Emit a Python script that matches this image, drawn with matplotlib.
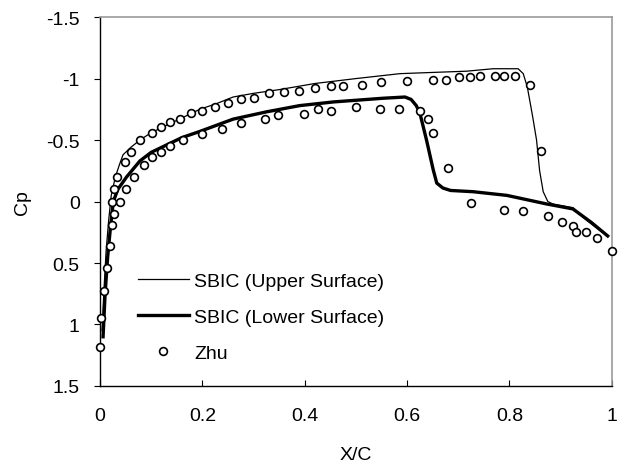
import matplotlib
matplotlib.use("Agg")
import matplotlib.pyplot as plt

plt.rcParams['font.family'] = ['Liberation Sans', 'DejaVu Sans']

# SBIC upper surface (thin line)
x_up = [0.004, 0.008, 0.012, 0.017, 0.022, 0.030, 0.038, 0.045, 0.060, 0.078,
        0.100, 0.130, 0.160, 0.195, 0.230, 0.260, 0.300, 0.350, 0.420, 0.500,
        0.586, 0.650, 0.716, 0.768, 0.817, 0.827, 0.835, 0.845, 0.853, 0.859,
        0.866, 0.875, 0.885, 0.924, 0.950, 0.975, 0.992]
cp_up = [1.05, 0.70, 0.40, 0.15, -0.05, -0.20, -0.30, -0.38, -0.44, -0.50,
         -0.56, -0.62, -0.68, -0.75, -0.80, -0.85, -0.88, -0.91, -0.96, -1.00,
         -1.04, -1.05, -1.06, -1.08, -1.08, -1.04, -0.93, -0.70, -0.50, -0.25,
         -0.08, 0.00, 0.02, 0.05, 0.15, 0.23, 0.28]

# SBIC lower surface (thick line)
x_lo = [0.006, 0.010, 0.015, 0.020, 0.026, 0.035, 0.052, 0.078, 0.100, 0.130,
        0.160, 0.195, 0.260, 0.326, 0.390, 0.456, 0.553, 0.596, 0.608, 0.618,
        0.625, 0.638, 0.651, 0.658, 0.670, 0.685, 0.729, 0.795, 0.873, 0.924,
        0.960, 0.992]
cp_lo = [1.10, 0.75, 0.45, 0.23, 0.00, -0.10, -0.20, -0.33, -0.40, -0.46,
         -0.52, -0.57, -0.67, -0.73, -0.78, -0.81, -0.84, -0.85, -0.83, -0.78,
         -0.72, -0.50, -0.26, -0.15, -0.11, -0.09, -0.08, -0.05, 0.02, 0.06,
         0.17, 0.28]

# Zhu data points
x_zhu = [0.000, 0.002, 0.008, 0.013, 0.020, 0.023, 0.027,
         0.023, 0.027, 0.034, 0.049, 0.061, 0.078, 0.101, 0.119, 0.137, 0.156,
         0.177, 0.199, 0.225, 0.250, 0.275, 0.300, 0.330, 0.360, 0.389, 0.420,
         0.451, 0.475, 0.512, 0.549, 0.600, 0.650, 0.676, 0.701, 0.723, 0.742,
         0.771, 0.789, 0.810, 0.840, 0.861, 0.875, 0.902, 0.924, 0.930, 0.949,
         0.971, 1.000,
         0.039, 0.050, 0.066, 0.086, 0.102, 0.119, 0.137, 0.163, 0.199, 0.239,
         0.275, 0.322, 0.347, 0.399, 0.426, 0.451, 0.501, 0.548, 0.584, 0.626,
         0.640, 0.651, 0.680, 0.724, 0.789, 0.826]
cp_zhu = [1.18, 0.95, 0.73, 0.54, 0.36, 0.19, 0.10,
          0.00, -0.10, -0.20, -0.32, -0.40, -0.50, -0.56, -0.61, -0.65, -0.67,
          -0.72, -0.74, -0.77, -0.80, -0.83, -0.84, -0.88, -0.89, -0.90, -0.92,
          -0.94, -0.94, -0.95, -0.97, -0.98, -0.99, -0.99, -1.01, -1.01, -1.02,
          -1.02, -1.02, -1.02, -0.95, -0.41, 0.12, 0.17, 0.20, 0.25, 0.25,
          0.30, 0.40,
          0.00, -0.10, -0.20, -0.30, -0.36, -0.40, -0.45, -0.50, -0.55, -0.59,
          -0.64, -0.67, -0.70, -0.71, -0.75, -0.74, -0.77, -0.75, -0.75, -0.74,
          -0.67, -0.56, -0.27, 0.01, 0.07, 0.08]

fs = 14

fig = plt.figure(figsize=(6.23, 4.64), dpi=100)
ax = fig.add_axes([0.1605, 0.166, 0.8215, 0.795])

ax.plot(x_up, cp_up, color='black', lw=0.9, label='SBIC (Upper Surface)', zorder=2)
ax.plot(x_lo, cp_lo, color='black', lw=2.4, label='SBIC (Lower Surface)', zorder=2)
ax.plot(x_zhu, cp_zhu, ls='none', marker='o', ms=5.6, mfc='white', mec='black',
        mew=1.2, label='Zhu', zorder=3, clip_on=False)

ax.set_xlim(0, 1)
ax.set_ylim(1.5, -1.5)
ax.set_xticks([0, 0.2, 0.4, 0.6, 0.8, 1])
ax.set_xticklabels(['0', '0.2', '0.4', '0.6', '0.8', '1'])
ax.set_yticks([-1.5, -1, -0.5, 0, 0.5, 1, 1.5])
ax.set_yticklabels(['-1.5', '-1', '-0.5', '0', '0.5', '1', '1.5'])
ax.tick_params(axis='x', direction='in', length=4, labelsize=fs, pad=15)
ax.tick_params(axis='y', direction='out', length=4.5, labelsize=fs, pad=10)

for s in ['top', 'right']:
    ax.spines[s].set_color('#999999')
    ax.spines[s].set_linewidth(1.2)
for s in ['left', 'bottom']:
    ax.spines[s].set_color('black')
    ax.spines[s].set_linewidth(1.0)

ax.set_xlabel('X/C', fontsize=fs, labelpad=16)
ax.set_ylabel('Cp', fontsize=fs, labelpad=11)

leg = ax.legend(loc='center left', bbox_to_anchor=(0.04, 0.187), frameon=False,
                fontsize=fs, handlelength=2.6, handletextpad=0.3,
                labelspacing=0.96)

fig.savefig('out.png', dpi=100)
